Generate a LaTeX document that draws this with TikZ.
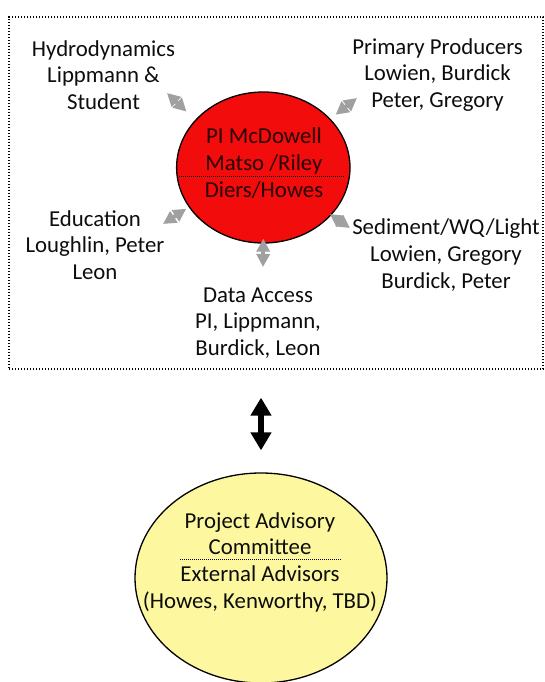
\documentclass[tikz,border=0pt]{standalone}
\usepackage{fontspec}
\setmainfont{Carlito}
\usepackage{tikz}
\usetikzlibrary{arrows.meta, calc, positioning, shapes.geometric}
\definecolor{pired}{RGB}{242,12,12}
\definecolor{pacyellow}{RGB}{253,248,160}
\definecolor{linkgray}{RGB}{160,160,160}
\definecolor{darkred}{RGB}{40,5,5}
\newcommand{\diagfont}{\fontsize{22.8pt}{26.7pt}\selectfont}

\begin{document}
\begin{tikzpicture}[x=1pt, y=-1pt,
    lbl/.style={font=\diagfont, align=center, inner sep=0pt, text=black!95},
    divider/.style={densely dotted, line width=1pt},
    linkarrow/.style={linkgray, line width=4pt, {Triangle[width=13pt,length=13pt]}-{Triangle[width=13pt,length=13pt]}},
    bigarrow/.style={black, line width=6pt, {Triangle[width=20pt,length=18pt]}-{Triangle[width=20pt,length=18pt]}}]
    \useasboundingbox (0,0) rectangle (545,682);

    % Project team box
    \node[draw, line width=1.3pt, dash pattern=on 1.3pt off 1.7pt, minimum width=534pt, minimum height=352pt] (team) at (276,193) {};

    % Central ellipse
    \node[draw, ellipse, fill=pired, line width=1.3pt, minimum width=173.4pt, minimum height=151pt] (pi) at (263.3,167.5) {};
    \node[lbl, text=darkred] (pitext) at (264,163) {PI McDowell\\Matso /Riley\\Diers/Howes};
    \draw[divider] (177,176) -- (344,176);

    % Working groups
    \node[lbl] (hydro) at (103.5,75) {Hydrodynamics\\Lippmann \&\\Student};
    \node[lbl] (prim) at (437.5,75) {Primary Producers\\Lowien, Burdick\\Peter, Gregory};
    \node[lbl] (edu) at (95,245) {Education\\Loughlin, Peter\\Leon};
    \node[lbl] (sed) at (446,255) {Sediment/WQ/Light\\Lowien, Gregory\\Burdick, Peter};
    \node[lbl] (data) at (258,323) {Data Access\\PI, Lippmann,\\Burdick, Leon};

    % Arrow ends
    \coordinate (hydroTip) at (167,93);
    \coordinate (primTip) at (357,98);
    \coordinate (eduTip) at (163,224);
    \coordinate (sedTip) at (350,228);
    \coordinate (dataTip) at (263,267);

    \foreach \ang/\gap/\tip in {145/12/hydroTip, 36/6.6/primTip, 208/3/eduTip, 325/-2/sedTip, 270/-5/dataTip} {
        \draw[linkarrow, shorten <=\gap pt] (pi.\ang) -- (\tip);
    }

    % Advisory committee
    \node[draw, ellipse, fill=pacyellow, line width=1.3pt, minimum width=252pt, minimum height=210pt] (pac) at (261,578) {};
    \node[lbl] (pactext) at (260,562) {Project Advisory\\Committee\\External Advisors\\(Howes, Kenworthy, TBD)};
    \draw[divider] (180,559) -- (342,559);

    \draw[bigarrow, shorten <=28pt, shorten >=22pt] (pac.north |- team.south) -- (pac.north);
\end{tikzpicture}
\end{document}
